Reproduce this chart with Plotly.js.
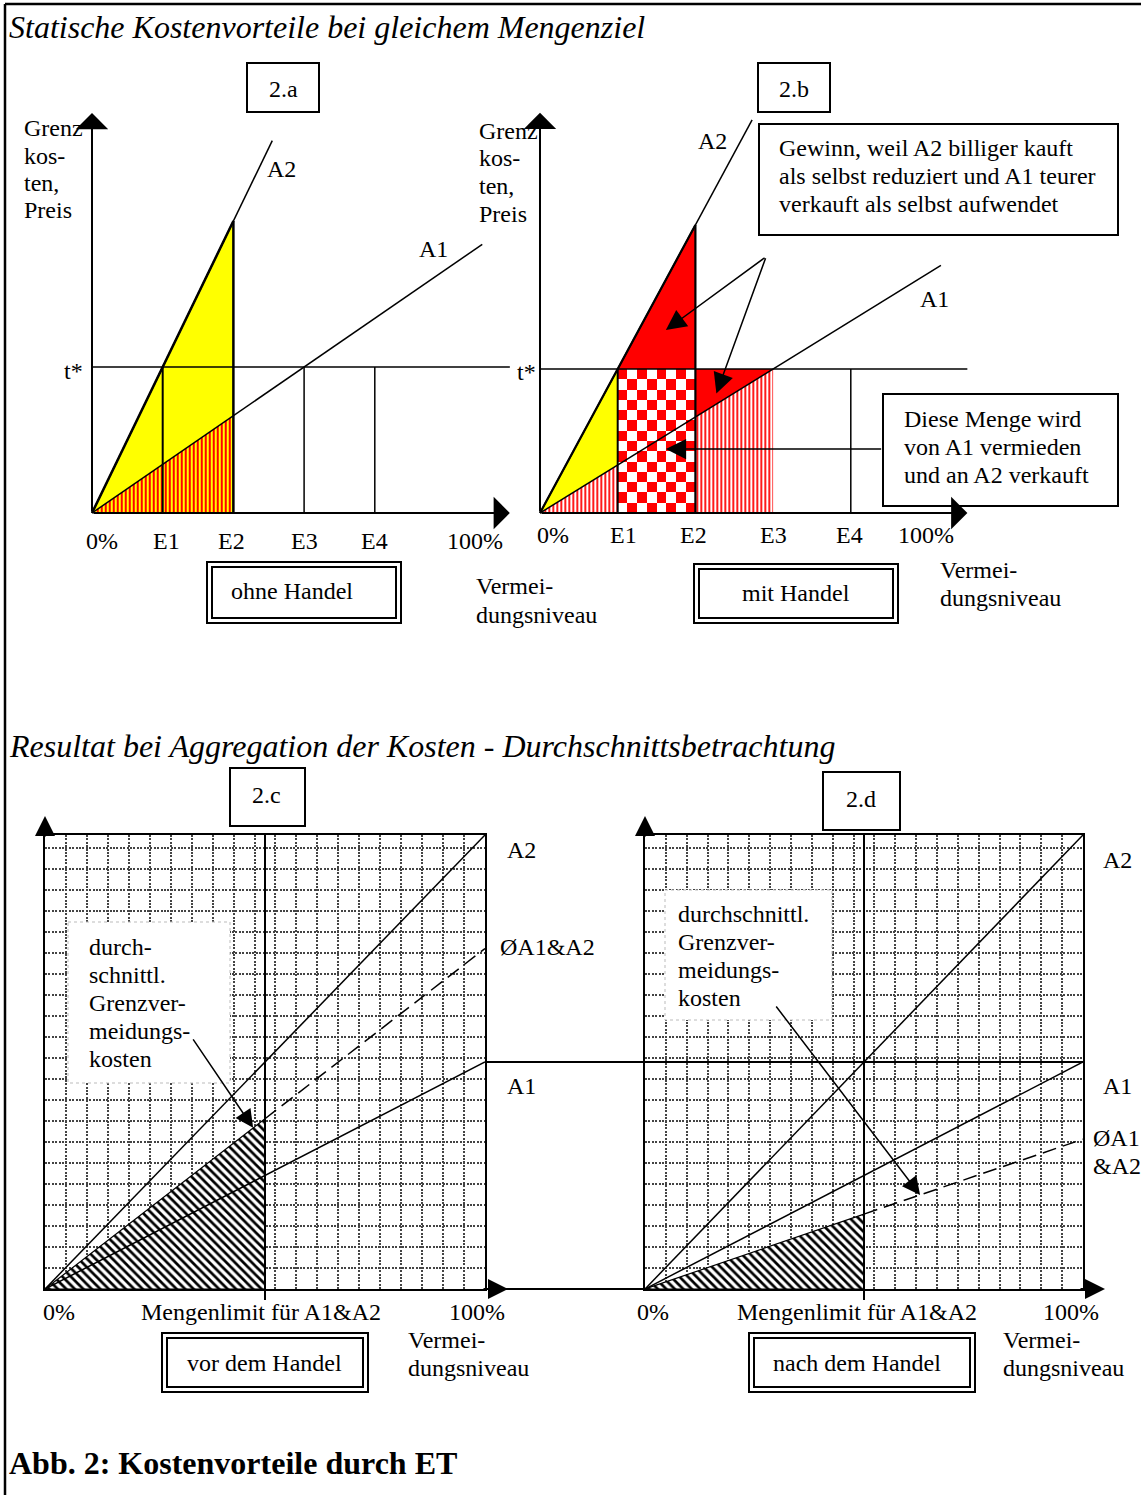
<!DOCTYPE html>
<html><head><meta charset="utf-8">
<script src="https://cdn.plot.ly/plotly-3.0.1.min.js"></script>
<style>html,body{margin:0;padding:0;background:#fff}#chart{width:1141px;height:1495px}</style>
</head><body><div id="chart"></div>
<script>
const W = 1141, H = 1495;
const SERIF = '"Liberation Serif", "Times New Roman", Times, serif';

// ---------- Data: panels 2.a / 2.b (price unit: t* = 1; abatement levels E1..E4) ----------
const levelLabels = ['0%', 'E1', 'E2', 'E3', 'E4', '100%'];
const levelPosA = [0.14, 1.05, 1.97, 3.0, 3.99, 5.42];
const levelPosB = [0.17, 1.08, 1.97, 3.01, 3.98, 4.97];
const E = [1, 2, 3, 4];                 // E1..E4
const tStar = 1;
const mcA2 = [0, 1, 2];                 // A2 marginal cost at 0, E1, E2
const mcA1 = [0, 0.333, 0.667, 1];      // A1 marginal cost at 0, E1, E2, E3
const a2LineA = {x: [0, 2.55], y: [0, 2.55]};
const a1LineA = {x: [0, 5.52], y: [0, 1.84]};
const a2LineB = {x: [0, 2.73], y: [0, 2.73]};
const a1LineB = {x: [0, 5.16], y: [0, 1.72]};
const tLineEndA = 5.91, tLineEndB = 5.5;

// ---------- Data: panels 2.c / 2.d (0 - 100 %) ----------
const cdTickLabels = ['0%', 'Mengenlimit für A1&A2', '100%'];
const cdTickPosC = [3.2, 49.1, 98.2];
const cdTickPosD = [1.8, 48.4, 97.3];
const qLimit = 50;
const lineA2 = {x: [0, 100], y: [0, 100]};
const lineA1 = {x: [0, 100], y: [0, 50]};
const avgBefore = {x: [0, 50, 100], y: [0, 37.5, 75]};
const avgAfter = {x: [0, 50, 100], y: [0, 16.5, 33]};

// ---------- helpers ----------
const PX = p => p / W, PY = p => 1 - p / H;
function line(xa, ya, x, y, w, dash) {
  return {type: 'scatter', mode: 'lines', x, y, xaxis: xa, yaxis: ya,
    line: {color: '#000', width: w, dash: dash || 'solid'}, hoverinfo: 'skip', showlegend: false};
}
function poly(xa, ya, x, y, fillcolor, pattern, lw) {
  const t = {type: 'scatter', mode: 'lines', x, y, xaxis: xa, yaxis: ya, fill: 'toself',
    fillcolor, line: {color: '#000', width: lw || 0}, hoverinfo: 'skip', showlegend: false};
  if (pattern) t.fillpattern = pattern;
  return t;
}
const traces = [];

// ----- Panel 2.a -----
traces.push(poly('x', 'y', [0, E[1], E[1], 0], [0, mcA2[2], mcA1[2], 0], '#ffff00'));
traces.push(poly('x', 'y', [0, E[1], E[1], 0], [0, mcA1[2], 0, 0], '#ffff00',
  {shape: '|', fgcolor: '#ff0000', bgcolor: '#ffff00', size: 4, solidity: 0.5}));
traces.push(line('x', 'y', a2LineA.x, a2LineA.y, 1.5));
traces.push(line('x', 'y', [0, E[1]], [0, mcA2[2]], 2.5));
traces.push(line('x', 'y', a1LineA.x, a1LineA.y, 1.5));
traces.push(line('x', 'y', [0, tLineEndA], [tStar, tStar], 1.5));
traces.push(line('x', 'y', [E[0], E[0]], [0, tStar], 2));
traces.push(line('x', 'y', [E[1], E[1]], [0, mcA2[2]], 2.5));
traces.push(line('x', 'y', [E[2], E[2]], [0, tStar], 1.5));
traces.push(line('x', 'y', [E[3], E[3]], [0, tStar], 1.5));

// ----- Panel 2.b -----
const checkerRows = 14, checkerCols = 8, checkerZ = [];
for (let r = 0; r < checkerRows; r++) {
  const row = [];
  for (let c = 0; c < checkerCols; c++) row.push((r + c) % 2);
  checkerZ.push(row);
}
traces.push({type: 'heatmap', xaxis: 'x2', yaxis: 'y2', z: checkerZ,
  x0: E[0] + (E[1] - E[0]) / checkerCols / 2, dx: (E[1] - E[0]) / checkerCols,
  y0: tStar / checkerRows / 2, dy: tStar / checkerRows,
  colorscale: [[0, '#ffffff'], [1, '#ff0000']], zmin: 0, zmax: 1, showscale: false,
  zsmooth: false, hoverinfo: 'skip'});
traces.push(poly('x2', 'y2', [0, E[0], E[0], 0], [0, mcA2[1], mcA1[1], 0], '#ffff00'));
const redStripe = {shape: '|', fgcolor: '#ff0000', bgcolor: '#ffffff', size: 4, solidity: 0.45};
traces.push(poly('x2', 'y2', [0, E[0], E[0], 0], [0, mcA1[1], 0, 0], '#ffffff', redStripe));
traces.push(poly('x2', 'y2', [E[1], E[1], E[2], E[2], E[1]], [0, mcA1[2], mcA1[3], 0, 0], '#ffffff', redStripe));
traces.push(poly('x2', 'y2', [E[0], E[1], E[1], E[0]], [tStar, mcA2[2], tStar, tStar], '#ff0000'));
traces.push(poly('x2', 'y2', [E[1], E[2], E[1], E[1]], [tStar, tStar, mcA1[2], tStar], '#ff0000'));
traces.push(line('x2', 'y2', a2LineB.x, a2LineB.y, 1.5));
traces.push(line('x2', 'y2', [0, E[1]], [0, mcA2[2]], 2.2));
traces.push(line('x2', 'y2', a1LineB.x, a1LineB.y, 1.5));
traces.push(line('x2', 'y2', [0, tLineEndB], [tStar, tStar], 1.5));
traces.push(line('x2', 'y2', [E[0], E[0]], [0, tStar], 2));
traces.push(line('x2', 'y2', [E[1], E[1]], [0, mcA2[2]], 2.2));
traces.push(line('x2', 'y2', [E[3], E[3]], [0, tStar], 1.5));

// ----- Panel 2.c / 2.d -----
const hatch = {shape: '\\', fgcolor: '#000', bgcolor: '#ffffff', size: 6, solidity: 0.45};
[['x3', 'y3', avgBefore], ['x4', 'y4', avgAfter]].forEach(([xa, ya, avg]) => {
  traces.push(poly(xa, ya, [0, qLimit, qLimit, 0], [0, avg.y[1], 0, 0], '#ffffff', hatch, 1.2));
  traces.push(line(xa, ya, lineA2.x, lineA2.y, 1.5));
  traces.push(line(xa, ya, lineA1.x, lineA1.y, 1.5));
  traces.push(line(xa, ya, avg.x.slice(1), avg.y.slice(1), 1.5, '14px,7px'));
});

// ---------- axes ----------
const gA = {ox: 92, oy: 513, ux: 70.7, uy: 146, xr: [-0.06, 6.0], yr: [-0.06, 2.8]};
const gB = {ox: 540, oy: 513, ux: 77.7, uy: 144, xr: [-0.06, 5.8], yr: [-0.06, 2.85]};
function dom(g) {
  return {x: [PX(g.ox + g.xr[0] * g.ux), PX(g.ox + g.xr[1] * g.ux)],
          y: [PY(g.oy - g.yr[0] * g.uy), PY(g.oy - g.yr[1] * g.uy)]};
}
const dA = dom(gA), dB = dom(gB);
const hid = (range, domain, anchor) => ({range, domain, anchor, visible: false, fixedrange: true});
const gridAx = (domain, anchor, dtick) => ({range: [0, 100], domain, anchor, showgrid: true,
  gridcolor: '#444444', gridwidth: 2, griddash: '2px,1.4px', dtick, tick0: 0, showticklabels: false,
  ticks: '', zeroline: false, showline: true, mirror: true, linecolor: '#000', linewidth: 2, fixedrange: true});
const cdY = [PY(1289), PY(835)];

// ---------- annotations ----------
const ann = [];
function T(text, px, py, o = {}) {
  ann.push({xref: 'paper', yref: 'paper', x: PX(px), y: PY(py), text, showarrow: false,
    xanchor: o.anchor || 'center', yanchor: 'middle', borderpad: 0,
    font: {family: SERIF, size: o.size || 24, color: '#000'}});
}
function TL(lines, px, py0, step, o) { lines.forEach((t, i) => T(t, px, py0 + i * step, o)); }
function tickRow(labels, pos, xref, py) {
  labels.forEach((t, i) => ann.push({xref, yref: 'paper', x: pos[i], y: PY(py), text: t, showarrow: false,
    xanchor: 'center', yanchor: 'middle', borderpad: 0, font: {family: SERIF, size: 24, color: '#000'}}));
}
function arrowData(xref, yref, x, y, ax, ay, head, size, width) {
  ann.push({xref, yref, axref: xref, ayref: yref, x, y, ax, ay, text: '', showarrow: true,
    arrowhead: head, arrowsize: size, arrowwidth: width, arrowcolor: '#000'});
}
function arrowPix(xref, yref, x, y, ax, ay, head, size, width) {
  ann.push({xref, yref, x, y, ax, ay, text: '', showarrow: true,
    arrowhead: head, arrowsize: size, arrowwidth: width, arrowcolor: '#000'});
}

// titles
T('<i>Statische Kostenvorteile bei gleichem Mengenziel</i>', 8, 27, {anchor: 'left', size: 32});
T('<i>Resultat bei Aggregation der Kosten - Durchschnittsbetrachtung</i>', 8, 746, {anchor: 'left', size: 32});
T('<b>Abb. 2: Kostenvorteile durch ET</b>', 8, 1463, {anchor: 'left', size: 32});

// panel 2.a
T('2.a', 283, 89);
TL(['Grenz', 'kos-', 'ten,', 'Preis'], 23, 128, 27.5, {anchor: 'left'});
T('A2', 281, 169); T('A1', 433, 249);
T('t*', 84, 371, {anchor: 'right'});
tickRow(levelLabels, levelPosA, 'x', 541);
T('ohne Handel', 292, 591);
TL(['Vermei-', 'dungsniveau'], 475, 586, 29, {anchor: 'left'});
arrowData('x', 'y', tLineEndA, 0, 0, 0, 1, 2.7, 2);
arrowData('x', 'y', 0, 2.74, 0, 0, 1, 2.7, 2);

// panel 2.b
T('2.b', 794, 89);
TL(['Grenz', 'kos-', 'ten,', 'Preis'], 478, 131, 27.5, {anchor: 'left'});
T('A2', 712, 141); T('A1', 934, 299);
T('t*', 537, 372, {anchor: 'right'});
tickRow(levelLabels, levelPosB, 'x2', 535);
T('mit Handel', 796, 593);
TL(['Vermei-', 'dungsniveau'], 939, 570, 28, {anchor: 'left'});
TL(['Gewinn, weil A2 billiger kauft', 'als selbst reduziert und A1 teurer', 'verkauft als selbst aufwendet'], 778, 148, 28, {anchor: 'left'});
TL(['Diese Menge wird', 'von A1 vermieden', 'und an A2 verkauft'], 903, 419, 28, {anchor: 'left'});
arrowData('x2', 'y2', tLineEndB, 0, 0, 0, 1, 2.7, 2);
arrowData('x2', 'y2', 0, 2.78, 0, 0, 1, 2.7, 2);
arrowData('x2', 'y2', 1.62, 1.27, 2.91, 1.78, 2, 2.7, 1.5);
arrowData('x2', 'y2', 2.27, 0.83, 2.91, 1.78, 2, 2.7, 1.5);
arrowData('x2', 'y2', 1.62, 0.444, 4.41, 0.444, 2, 2.7, 1.5);

// panel 2.c
T('2.c', 266, 795);
TL(['durch-', 'schnittl.', 'Grenzver-', 'meidungs-', 'kosten'], 88, 947, 28, {anchor: 'left'});
T('A2', 521, 850); T('ØA1&A2', 547, 947); T('A1', 521, 1086);
tickRow(cdTickLabels, cdTickPosC, 'x3', 1312);
TL(['Vermei-', 'dungsniveau'], 407, 1340, 28, {anchor: 'left'});
T('vor dem Handel', 264, 1363);
arrowPix('x3', 'y3', 47.3, 35.5, -61, -90, 2, 2.4, 1.5);
arrowPix('paper', 'paper', PX(45), PY(816), 0, 22, 2, 2, 2);
arrowPix('paper', 'paper', PX(508), PY(1289), -26, 0, 2, 2, 2);

// panel 2.d
T('2.d', 861, 799);
TL(['durchschnittl.', 'Grenzver-', 'meidungs-', 'kosten'], 677, 914, 28, {anchor: 'left'});
T('A2', 1117, 860); T('A1', 1117, 1086);
TL(['ØA1', '&A2'], 1092, 1138, 28, {anchor: 'left'});
tickRow(cdTickLabels, cdTickPosD, 'x4', 1312);
TL(['Vermei-', 'dungsniveau'], 1002, 1340, 28, {anchor: 'left'});
T('nach dem Handel', 857, 1363);
arrowPix('x4', 'y4', 62.8, 20.7, -145, -190, 2, 2.4, 1.5);
arrowPix('paper', 'paper', PX(645), PY(816), 0, 22, 2, 2, 2);
arrowPix('paper', 'paper', PX(1105), PY(1289), -26, 0, 2, 2, 2);

// ---------- shapes (frames / boxes) ----------
const shapes = [];
function rect(x0, y0, x1, y1, w, fill, dash, color) {
  shapes.push({type: 'rect', xref: 'paper', yref: 'paper', x0: PX(x0), x1: PX(x1), y0: PY(y0), y1: PY(y1),
    line: {color: color || '#000', width: w, dash: dash || 'solid'}, fillcolor: fill || 'rgba(0,0,0,0)', layer: 'above'});
}
function dbl(x0, y0, x1, y1) { rect(x0, y0, x1, y1, 2); rect(x0 + 5, y0 + 5, x1 - 5, y1 - 5, 2); }
function seg(x0, y0, x1, y1, w) {
  shapes.push({type: 'line', xref: 'paper', yref: 'paper', x0: PX(x0), x1: PX(x1), y0: PY(y0), y1: PY(y1),
    line: {color: '#000', width: w}, layer: 'above'});
}
seg(5, 4, 1141, 4, 2.5); seg(5, 4, 5, 1495, 2.5);
rect(247, 63, 319, 112, 2); rect(758, 63, 830, 112, 2);
rect(230, 768, 305, 826, 2); rect(823, 772, 900, 830, 2);
rect(759, 124, 1118, 235, 2); rect(883, 394, 1118, 506, 2);
dbl(207, 562, 401, 623); dbl(694, 564, 898, 623);
dbl(162, 1333, 368, 1392); dbl(749, 1333, 975, 1392);
rect(68, 922, 230, 1083, 1, '#ffffff', 'dot', '#bbbbbb');
rect(665, 890, 832, 1020, 1, '#ffffff', 'dot', '#bbbbbb');
// quantity limit verticals (data x), reaching slightly below the axis
['x3', 'x4'].forEach(xr => shapes.push({type: 'line', xref: xr, yref: 'paper', x0: qLimit, x1: qLimit,
  y0: PY(835), y1: PY(1300), line: {color: '#000', width: 2}, layer: 'above'}));
// A1 end level carried across to 2.d
shapes.push({type: 'line', xref: 'paper', yref: 'y4', x0: PX(485), x1: PX(1083), y0: lineA1.y[1], y1: lineA1.y[1],
  line: {color: '#000', width: 2}, layer: 'above'});
seg(485, 1289, 645, 1289, 2);

const layout = {
  width: W, height: H, margin: {l: 0, r: 0, t: 0, b: 0}, showlegend: false,
  paper_bgcolor: '#ffffff', plot_bgcolor: '#ffffff', font: {family: SERIF, color: '#000'},
  xaxis: hid(gA.xr, dA.x, 'y'), yaxis: hid(gA.yr, dA.y, 'x'),
  xaxis2: hid(gB.xr, dB.x, 'y2'), yaxis2: hid(gB.yr, dB.y, 'x2'),
  xaxis3: gridAx([PX(45), PX(485)], 'y3', 100 / 21), yaxis3: gridAx(cdY, 'x3', 4.63),
  xaxis4: gridAx([PX(645), PX(1083)], 'y4', 100 / 21), yaxis4: gridAx(cdY, 'x4', 4.63),
  annotations: ann, shapes: shapes
};
Plotly.newPlot('chart', traces, layout, {staticPlot: true, displayModeBar: false});
</script></body></html>
